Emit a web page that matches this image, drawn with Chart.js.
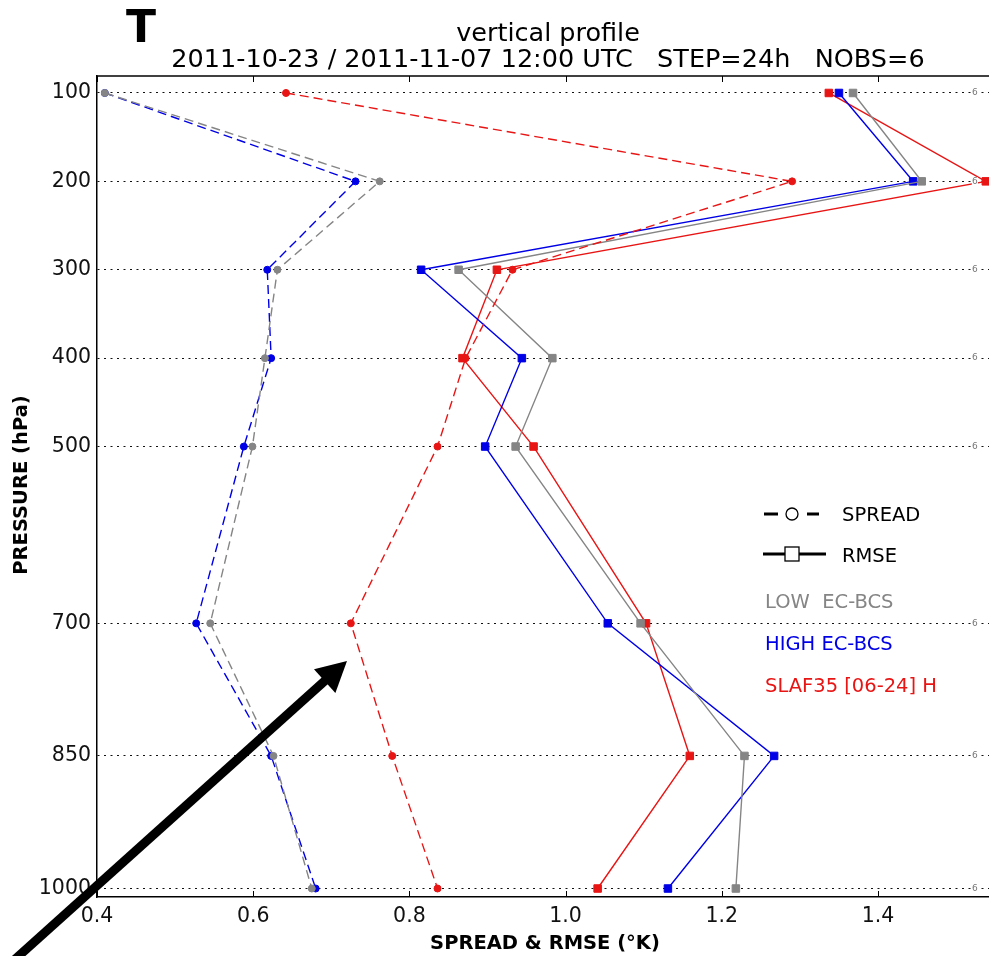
<!DOCTYPE html>
<html><head><meta charset="utf-8">
<script src="https://cdn.jsdelivr.net/npm/chart.js@4/dist/chart.umd.min.js"></script>
<style>html,body{margin:0;padding:0;background:#fff;overflow:hidden}#wrap{position:relative;width:989px;height:956px;overflow:hidden}</style>
</head><body><div id="wrap"><canvas id="c" width="996" height="956"></canvas></div>
<script>
const levels = [100, 200, 300, 400, 500, 700, 850, 1000];
const lowSpread  = [0.410, 0.762, 0.631, 0.615, 0.599, 0.545, 0.626, 0.675];
const highSpread = [0.410, 0.731, 0.618, 0.623, 0.588, 0.527, 0.623, 0.680];
const slafSpread = [0.642, 1.290, 0.932, 0.872, 0.836, 0.725, 0.778, 0.836];
const lowRmse    = [1.368, 1.456, 0.863, 0.983, 0.936, 1.096, 1.229, 1.218];
const highRmse   = [1.350, 1.445, 0.815, 0.944, 0.897, 1.054, 1.267, 1.131];
const slafRmse   = [1.337, 1.538, 0.912, 0.868, 0.959, 1.103, 1.159, 1.041];
const nobs = [6, 6, 6, 6, 6, 6, 6, 6];
const xTicks = [0.4, 0.6, 0.8, 1.0, 1.2, 1.4];
const seriesNames = ['LOW  EC-BCS', 'HIGH EC-BCS', 'SLAF35 [06-24] H'];
const titleLine1 = 'vertical profile';
const titleLine2 = '2011-10-23 / 2011-11-07 12:00 UTC   STEP=24h   NOBS=6';

const GRAY = '#858585', BLUE = '#0000e6', RED = '#e81515';
const toPts = arr => arr.map((v, i) => ({x: v, y: levels[i]}));

function spreadDs(label, arr, col) {
  return {label, data: toPts(arr), showLine: true, borderColor: col, backgroundColor: col,
    borderWidth: 1.4, borderDash: [9, 5], pointStyle: 'circle', pointRadius: 3.5,
    pointBorderWidth: 1, pointBorderColor: col, pointBackgroundColor: col, clip: 6};
}
function rmseDs(label, arr, col) {
  return {label, data: toPts(arr), showLine: true, borderColor: col, backgroundColor: col,
    borderWidth: 1.4, pointStyle: 'rect', pointRadius: 5.3,
    pointBorderWidth: 1, pointBorderColor: col, pointBackgroundColor: col, clip: 6};
}

const FONT = 'DejaVu Sans';

const decor = {
  id: 'decor',
  afterDraw(chart) {
    const ctx = chart.ctx, ca = chart.chartArea;
    const xs = chart.scales.x, ys = chart.scales.y;
    ctx.save();
    // top spine
    ctx.strokeStyle = '#000'; ctx.lineWidth = 1.5;
    ctx.beginPath(); ctx.moveTo(ca.left, ca.top); ctx.lineTo(ca.right, ca.top); ctx.stroke();
    // inward ticks
    ctx.lineWidth = 1;
    xTicks.forEach(t => {
      const px = Math.round(xs.getPixelForValue(t)) + 0.5;
      ctx.beginPath(); ctx.moveTo(px, ca.bottom); ctx.lineTo(px, ca.bottom - 6); ctx.stroke();
      ctx.beginPath(); ctx.moveTo(px, ca.top); ctx.lineTo(px, ca.top + 6); ctx.stroke();
    });
    // nobs labels
    ctx.font = '9px ' + FONT; ctx.textAlign = 'center'; ctx.textBaseline = 'middle';
    nobs.forEach((n, i) => {
      const py = ys.getPixelForValue(levels[i]);
      const px = xs.getPixelForValue(1.524);
      ctx.fillStyle = '#fff'; ctx.fillRect(px - 3, py - 4, 6, 8);
      ctx.fillStyle = '#777'; ctx.fillText(String(n), px, py);
    });
    // titles
    ctx.fillStyle = '#000'; ctx.textBaseline = 'alphabetic';
    ctx.textAlign = 'left'; ctx.font = 'bold 44px ' + FONT;
    ctx.fillText('T', 126, 42);
    ctx.textAlign = 'center'; ctx.font = '25.5px ' + FONT;
    ctx.fillText(titleLine1, 548, 41);
    ctx.fillText(titleLine2, 548, 67);
    // axis titles
    ctx.font = 'bold 19.5px ' + FONT;
    ctx.fillText('SPREAD & RMSE (°K)', 545, 949);
    ctx.save(); ctx.translate(27, 485); ctx.rotate(-Math.PI / 2);
    ctx.fillText('PRESSURE (hPa)', 0, 0); ctx.restore();
    // legend: style keys
    ctx.strokeStyle = '#000'; ctx.lineWidth = 3;
    ctx.beginPath(); ctx.moveTo(764, 514); ctx.lineTo(778, 514); ctx.moveTo(807, 514); ctx.lineTo(819, 514); ctx.stroke();
    ctx.lineWidth = 1.3; ctx.fillStyle = '#fff';
    ctx.beginPath(); ctx.arc(792, 514, 6, 0, Math.PI * 2); ctx.fill(); ctx.stroke();
    ctx.lineWidth = 3;
    ctx.beginPath(); ctx.moveTo(763, 554); ctx.lineTo(826, 554); ctx.stroke();
    ctx.lineWidth = 1.3; ctx.fillStyle = '#fff';
    ctx.fillRect(785, 547, 14, 14); ctx.strokeRect(785, 547, 14, 14);
    ctx.textAlign = 'left'; ctx.textBaseline = 'middle'; ctx.font = '19.5px ' + FONT;
    ctx.fillStyle = '#000';
    ctx.fillText('SPREAD', 842, 516);
    ctx.fillText('RMSE', 842, 557);
    [GRAY, BLUE, RED].forEach((c, i) => {
      ctx.fillStyle = c; ctx.fillText(seriesNames[i], 765, 603 + i * 42);
    });
    // arrow annotation
    ctx.strokeStyle = '#000'; ctx.fillStyle = '#000'; ctx.lineWidth = 9; ctx.lineCap = 'butt';
    const x0 = 12, y0 = 962, x1 = 347, y1 = 661;
    const ang = Math.atan2(y1 - y0, x1 - x0);
    const hl = 30, hw = 16;
    const bx = x1 - hl * Math.cos(ang), by = y1 - hl * Math.sin(ang);
    ctx.beginPath(); ctx.moveTo(x0, y0); ctx.lineTo(bx + 2 * Math.cos(ang), by + 2 * Math.sin(ang)); ctx.stroke();
    ctx.beginPath(); ctx.moveTo(x1, y1);
    ctx.lineTo(bx + hw * Math.sin(ang), by - hw * Math.cos(ang));
    ctx.lineTo(bx - hw * Math.sin(ang), by + hw * Math.cos(ang));
    ctx.closePath(); ctx.fill();
    ctx.restore();
  }
};

new Chart(document.getElementById('c'), {
  type: 'scatter',
  data: {
    datasets: [
      spreadDs('LOW spread', lowSpread, GRAY),
      spreadDs('HIGH spread', highSpread, BLUE),
      spreadDs('SLAF spread', slafSpread, RED),
      rmseDs('LOW rmse', lowRmse, GRAY),
      rmseDs('HIGH rmse', highRmse, BLUE),
      rmseDs('SLAF rmse', slafRmse, RED)
    ]
  },
  options: {
    responsive: false, animation: false, devicePixelRatio: 1,
    layout: {padding: {top: 76, right: 0, left: 0, bottom: 0}},
    plugins: {legend: {display: false}, tooltip: {enabled: false}, title: {display: false}},
    scales: {
      x: {
        type: 'linear', position: 'bottom', min: 0.4, max: 1.543,
        afterBuildTicks: s => { s.ticks = xTicks.map(v => ({value: v})); },
        afterFit: s => { s.height = 59; },
        grid: {display: false, drawTicks: false},
        border: {display: true, color: '#000', width: 1.5},
        ticks: {color: '#111', font: {family: FONT, size: 20.5}, padding: 7, maxRotation: 0,
          callback: v => Number(v).toFixed(1)}
      },
      y: {
        type: 'linear', reverse: true, min: 80.8, max: 1009.6,
        afterBuildTicks: s => { s.ticks = levels.map(v => ({value: v})); },
        afterFit: s => { s.width = 97; },
        grid: {display: true, drawTicks: false, color: '#111', lineWidth: 1},
        border: {display: true, color: '#000', width: 1.5, dash: [2, 4.5]},
        ticks: {color: '#111', font: {family: FONT, size: 20.5}, padding: 6,
          callback: v => String(v)}
      }
    }
  },
  plugins: [decor]
});
</script></body></html>
